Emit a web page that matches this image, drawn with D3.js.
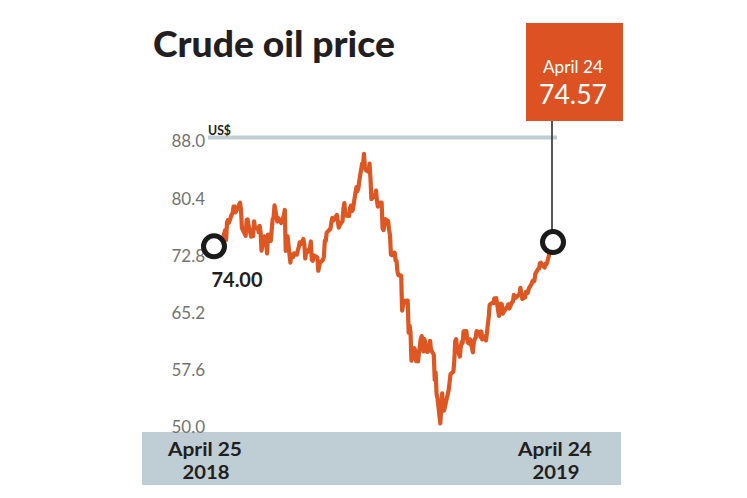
<!DOCTYPE html>
<html>
<head>
<meta charset="utf-8">
<script src="https://cdn.jsdelivr.net/npm/d3@7"></script>
<style>
  html, body { margin: 0; padding: 0; background: #ffffff; }
  svg { display: block; }
</style>
</head>
<body>
<svg id="chart" width="747" height="498"></svg>
<script>
// ---------------- DATA ----------------
const title = "Crude oil price";
const unitLabel = "US$";
const yTicks = [88.0, 80.4, 72.8, 65.2, 57.6, 50.0];
const yDomain = [50.0, 88.0];

const dates = [
"2018-04-25","2018-04-26","2018-04-27","2018-04-30","2018-05-01","2018-05-02","2018-05-03","2018-05-04",
"2018-05-07","2018-05-08","2018-05-09","2018-05-10","2018-05-11","2018-05-14","2018-05-15","2018-05-16",
"2018-05-17","2018-05-18","2018-05-21","2018-05-22","2018-05-23","2018-05-24","2018-05-25","2018-05-29",
"2018-05-30","2018-05-31","2018-06-01","2018-06-04","2018-06-05","2018-06-06","2018-06-07","2018-06-08",
"2018-06-11","2018-06-12","2018-06-13","2018-06-14","2018-06-15","2018-06-18","2018-06-19","2018-06-20",
"2018-06-21","2018-06-22","2018-06-25","2018-06-26","2018-06-27","2018-06-28","2018-06-29","2018-07-02",
"2018-07-03","2018-07-05","2018-07-06","2018-07-09","2018-07-10","2018-07-11","2018-07-12","2018-07-13",
"2018-07-16","2018-07-17","2018-07-18","2018-07-19","2018-07-20","2018-07-23","2018-07-24","2018-07-25",
"2018-07-26","2018-07-27","2018-07-30","2018-07-31","2018-08-01","2018-08-02","2018-08-03","2018-08-06",
"2018-08-07","2018-08-08","2018-08-09","2018-08-10","2018-08-13","2018-08-14","2018-08-15","2018-08-16",
"2018-08-17","2018-08-20","2018-08-21","2018-08-22","2018-08-23","2018-08-24","2018-08-27","2018-08-28",
"2018-08-29","2018-08-30","2018-08-31","2018-09-04","2018-09-05","2018-09-06","2018-09-07","2018-09-10",
"2018-09-11","2018-09-12","2018-09-13","2018-09-14","2018-09-17","2018-09-18","2018-09-19","2018-09-20",
"2018-09-21","2018-09-24","2018-09-25","2018-09-26","2018-09-27","2018-09-28","2018-10-01","2018-10-02",
"2018-10-03","2018-10-04","2018-10-05","2018-10-08","2018-10-09","2018-10-10","2018-10-11","2018-10-12",
"2018-10-15","2018-10-16","2018-10-17","2018-10-18","2018-10-19","2018-10-22","2018-10-23","2018-10-24",
"2018-10-25","2018-10-26","2018-10-29","2018-10-30","2018-10-31","2018-11-01","2018-11-02","2018-11-05",
"2018-11-06","2018-11-07","2018-11-08","2018-11-09","2018-11-12","2018-11-13","2018-11-14","2018-11-15",
"2018-11-16","2018-11-19","2018-11-20","2018-11-21","2018-11-22","2018-11-23","2018-11-26","2018-11-27",
"2018-11-28","2018-11-29","2018-11-30","2018-12-03","2018-12-04","2018-12-05","2018-12-06","2018-12-07",
"2018-12-10","2018-12-11","2018-12-12","2018-12-13","2018-12-14","2018-12-17","2018-12-18","2018-12-19",
"2018-12-20","2018-12-21","2018-12-24","2018-12-26","2018-12-27","2018-12-28","2018-12-31","2019-01-02",
"2019-01-03","2019-01-04","2019-01-07","2019-01-08","2019-01-09","2019-01-10","2019-01-11","2019-01-14",
"2019-01-15","2019-01-16","2019-01-17","2019-01-18","2019-01-21","2019-01-22","2019-01-23","2019-01-24",
"2019-01-25","2019-01-28","2019-01-29","2019-01-30","2019-01-31","2019-02-01","2019-02-04","2019-02-05",
"2019-02-06","2019-02-07","2019-02-08","2019-02-11","2019-02-12","2019-02-13","2019-02-14","2019-02-15",
"2019-02-18","2019-02-19","2019-02-20","2019-02-21","2019-02-22","2019-02-25","2019-02-26","2019-02-27",
"2019-02-28","2019-03-01","2019-03-04","2019-03-05","2019-03-06","2019-03-07","2019-03-08","2019-03-11",
"2019-03-12","2019-03-13","2019-03-14","2019-03-15","2019-03-18","2019-03-19","2019-03-20","2019-03-21",
"2019-03-22","2019-03-25","2019-03-26","2019-03-27","2019-03-28","2019-03-29","2019-04-01","2019-04-02",
"2019-04-03","2019-04-04","2019-04-05","2019-04-08","2019-04-09","2019-04-10","2019-04-11","2019-04-12",
"2019-04-15","2019-04-16","2019-04-17","2019-04-18","2019-04-22","2019-04-23","2019-04-24"
];

const prices = [
74.00,74.74,74.64,75.17,73.13,73.36,73.62,74.87,
76.17,74.85,77.21,77.47,77.12,78.23,78.43,79.28,
79.30,78.51,79.22,79.57,79.80,78.79,76.44,75.39,
77.50,77.59,76.79,75.29,75.38,75.36,77.32,76.46,
76.46,75.88,76.74,75.94,73.44,75.34,75.08,74.74,
73.05,75.55,74.73,76.31,77.62,77.85,79.44,77.30,
77.76,77.39,77.11,78.07,78.86,73.40,74.45,75.33,
71.84,72.90,72.90,72.58,73.07,72.91,73.44,73.93,
74.54,74.29,74.97,74.25,72.39,73.45,73.21,73.75,
74.65,72.28,72.07,72.81,72.61,72.46,70.76,71.43,
71.83,72.21,72.63,74.78,74.73,75.82,76.21,76.31,
77.14,77.77,77.42,78.17,77.27,76.50,76.83,77.37,
79.06,79.74,78.18,78.09,78.05,79.03,79.40,78.70,
78.80,81.20,81.87,81.34,81.72,82.72,84.98,84.80,
86.29,84.58,84.16,83.91,85.00,83.09,80.26,80.43,
80.78,81.41,80.05,79.29,79.78,79.83,76.44,76.17,
76.89,77.62,77.34,76.17,75.47,72.89,72.83,73.17,
72.13,72.07,70.65,70.18,70.12,65.47,66.12,66.62,
66.76,66.79,62.53,63.48,62.60,58.80,60.48,60.21,
58.76,59.51,58.71,61.69,62.08,61.56,60.06,61.67,
59.97,60.20,60.15,61.45,60.28,59.61,56.26,57.24,
54.35,53.82,50.47,54.47,52.16,52.20,53.80,54.91,
55.95,57.06,57.33,58.72,61.44,61.68,60.48,59.35,
60.64,61.32,61.18,62.70,62.74,61.50,61.14,61.09,
61.64,59.93,61.32,61.65,61.89,62.75,62.51,61.98,
62.69,61.63,62.10,61.51,62.42,63.61,64.57,66.25,
66.50,66.45,67.08,67.07,67.12,64.76,65.21,66.39,
66.31,65.07,65.67,65.86,65.99,66.30,65.74,66.58,
66.67,67.55,67.23,67.16,67.54,67.61,68.50,67.86,
67.03,67.21,67.97,67.83,67.82,68.39,69.01,69.37,
69.31,69.40,70.34,70.99,71.02,71.73,71.83,71.55,
71.18,71.72,71.62,71.97,74.04,74.51,74.57
];

const markerDates = ["2018-04-25", "2019-04-24"];
const markerValues = [74.00, 74.57];
const startValueLabel = "74.00";
const calloutDate = "April 24";
const calloutValue = "74.57";
const xLabels = [["April 25", "2018"], ["April 24", "2019"]];

// ---------------- LAYOUT ----------------
const parse = d3.timeParse("%Y-%m-%d");
const data = dates.map((d, i) => ({ date: parse(d), value: prices[i] }));

const svg = d3.select("#chart");
const ORANGE = "#dc5222";
const LINE = "#de5622";
const BAND = "#bfcdd4";
const DARK = "#231f20";

const x = d3.scaleTime()
  .domain([parse(markerDates[0]), parse(markerDates[1])])
  .range([214, 553]);
const y = d3.scaleLinear().domain(yDomain).range([427, 141]);

// title
svg.append("text")
  .attr("x", 153).attr("y", 57)
  .attr("font-family", "Lato, 'Open Sans', sans-serif")
  .attr("font-weight", 900)
  .attr("font-size", 36)
  .attr("fill", DARK)
  .attr("textLength", 242)
  .attr("lengthAdjust", "spacingAndGlyphs")
  .text(title);

// bottom band
svg.append("rect")
  .attr("x", 142).attr("y", 432)
  .attr("width", 479).attr("height", 53)
  .attr("fill", BAND);

// top reference line at 88.0
svg.append("rect")
  .attr("x", 208).attr("y", y(yDomain[1]) - 5.5)
  .attr("width", 349).attr("height", 4)
  .attr("fill", BAND);

// unit label
svg.append("text")
  .attr("x", 208).attr("y", 135)
  .attr("font-family", "Lato, sans-serif")
  .attr("font-weight", 700)
  .attr("font-size", 13)
  .attr("fill", DARK)
  .attr("textLength", 23)
  .attr("lengthAdjust", "spacingAndGlyphs")
  .text(unitLabel);

// y axis labels
const yAxis = d3.axisLeft(y)
  .tickValues(yTicks)
  .tickSize(0)
  .tickPadding(0)
  .tickFormat(d3.format(".1f"));
const gy = svg.append("g").attr("transform", "translate(205,0)").call(yAxis);
gy.select(".domain").remove();
gy.selectAll("text")
  .attr("font-family", "Lato, sans-serif")
  .attr("font-size", 17)
  .attr("fill", "#737373")
  .attr("dy", "0.35em");

// price line
const line = d3.line().x(d => x(d.date)).y(d => y(d.value)).curve(d3.curveLinear);
svg.append("path")
  .datum(data)
  .attr("d", line)
  .attr("fill", "none")
  .attr("stroke", LINE)
  .attr("stroke-width", 4.2)
  .attr("stroke-linejoin", "round")
  .attr("stroke-linecap", "round");

// callout box
const endX = x(parse(markerDates[1]));
svg.append("rect")
  .attr("x", 526).attr("y", 23)
  .attr("width", 97).attr("height", 98)
  .attr("fill", ORANGE);
svg.append("text")
  .attr("x", 573).attr("y", 72.5)
  .attr("text-anchor", "middle")
  .attr("font-family", "Lato, sans-serif")
  .attr("font-size", 18)
  .attr("fill", "#ffffff")
  .attr("textLength", 60)
  .attr("lengthAdjust", "spacingAndGlyphs")
  .text(calloutDate);
svg.append("text")
  .attr("x", 573).attr("y", 103.5)
  .attr("text-anchor", "middle")
  .attr("font-family", "Lato, sans-serif")
  .attr("font-size", 27)
  .attr("fill", "#ffffff")
  .attr("textLength", 68)
  .attr("lengthAdjust", "spacingAndGlyphs")
  .text(calloutValue);

// connector line
svg.append("line")
  .attr("x1", endX - 1).attr("x2", endX - 1)
  .attr("y1", 121).attr("y2", y(markerValues[1]) - 12)
  .attr("stroke", DARK)
  .attr("stroke-width", 1.5);

// marker circles
svg.selectAll("circle.marker")
  .data(markerDates.map((d, i) => ({ date: parse(d), value: markerValues[i] })))
  .enter().append("circle")
  .attr("class", "marker")
  .attr("cx", d => x(d.date))
  .attr("cy", d => y(d.value))
  .attr("r", 10.5)
  .attr("fill", "#ffffff")
  .attr("stroke", "#1a1a1a")
  .attr("stroke-width", 5);

// start value label
svg.append("text")
  .attr("x", 237).attr("y", 287)
  .attr("text-anchor", "middle")
  .attr("font-family", "Lato, sans-serif")
  .attr("font-weight", 700)
  .attr("font-size", 20)
  .attr("fill", DARK)
  .attr("textLength", 51)
  .attr("lengthAdjust", "spacingAndGlyphs")
  .text(startValueLabel);

// x labels in band
const xLabelCenters = [205, 555];
xLabels.forEach((lines, i) => {
  svg.append("text")
    .attr("x", xLabelCenters[i]).attr("y", 456)
    .attr("text-anchor", "middle")
    .attr("font-family", "Lato, sans-serif")
    .attr("font-weight", 700)
    .attr("font-size", 19)
    .attr("fill", DARK)
    .attr("textLength", 74).attr("lengthAdjust", "spacingAndGlyphs")
    .text(lines[0]);
  svg.append("text")
    .attr("x", xLabelCenters[i] + 1).attr("y", 479)
    .attr("text-anchor", "middle")
    .attr("font-family", "Lato, sans-serif")
    .attr("font-weight", 700)
    .attr("font-size", 19)
    .attr("fill", DARK)
    .attr("textLength", 47).attr("lengthAdjust", "spacingAndGlyphs")
    .text(lines[1]);
});
</script>
</body>
</html>
